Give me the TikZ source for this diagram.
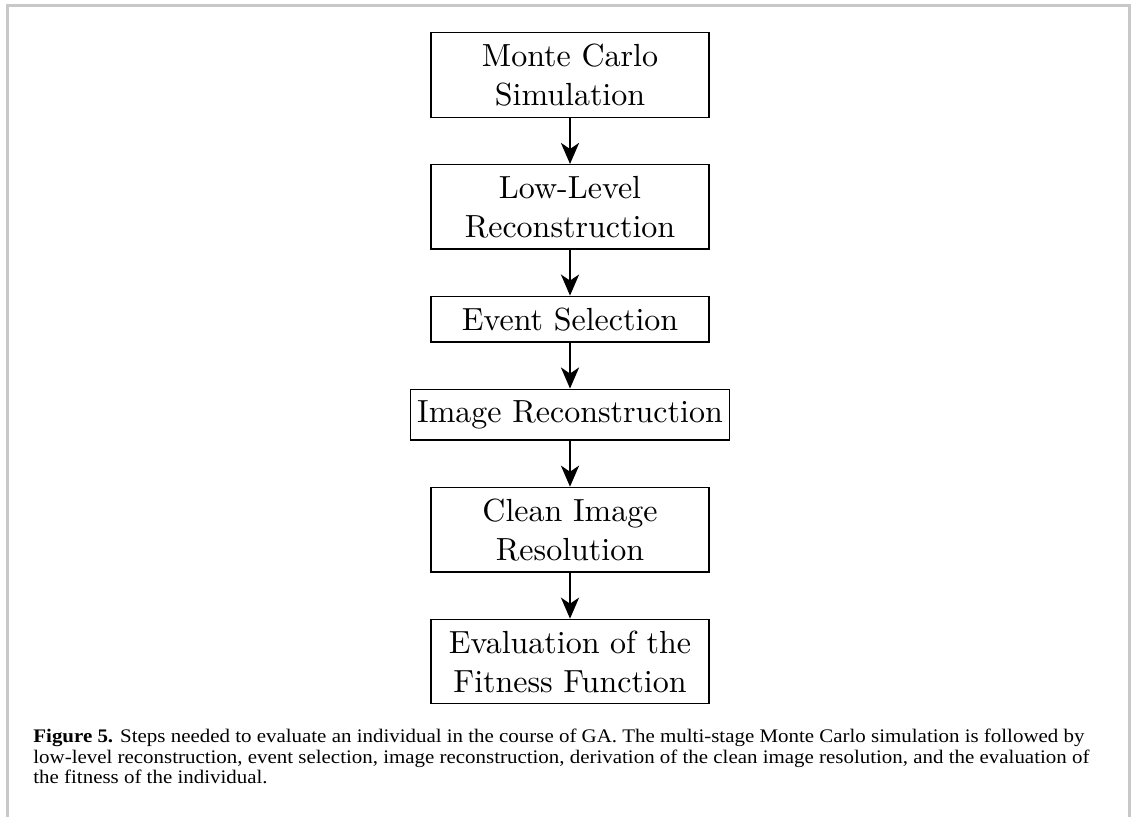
\documentclass[tikz,border=0pt]{standalone}
\usepackage{fontspec}
\setmainfont{Liberation Serif}
\newfontfamily\capfont[FakeStretch=1.09]{Liberation Serif}
\newfontfamily\boxfont[Extension=.otf]{lmroman10-regular}
\usetikzlibrary{positioning,arrows.meta}
\definecolor{framegray}{HTML}{C8C8C8}

\begin{document}
\begin{tikzpicture}[x=1pt,y=1pt,
    stage/.style={draw, line width=0.65pt, align=center,
        font=\boxfont\fontsize{16}{19.5}\selectfont,
        minimum width=139pt, inner xsep=3.25pt, inner ysep=5.6pt},
    flow/.style={-{Stealth[length=10.5pt,width=9pt,inset=3pt]}, line width=1.4pt},
    node distance=23pt]

\useasboundingbox (0,0) rectangle (566.5,-408);

% frame round the figure, open at the bottom
\draw[framegray, line width=1.25pt] (3.75,-410) |- (564.75,-2.75) -- (564.75,-410);

% steps
\node[stage] (mc) at (285,-37.5) {Monte Carlo\\Simulation};
\node[stage, below=of mc] (llr) {Low-Level\\Reconstruction};
\node[stage, below=of llr] (evsel) {Event Selection};
\node[stage, below=of evsel] (imrec) {Image Reconstruction};
\node[stage, below=of imrec] (cires) {Clean Image\\Resolution};
\node[stage, below=of cires] (fitness) {Evaluation of the\\Fitness Function};

% arrows
\draw[flow] (mc) -- (llr);
\draw[flow] (llr) -- (evsel);
\draw[flow] (evsel) -- (imrec);
\draw[flow] (imrec) -- (cires);
\draw[flow] (cires) -- (fitness);

% caption
\node[anchor=north west, align=left, inner sep=0pt,
    font=\capfont\fontsize{9.6}{10.4}\selectfont] (caption) at (16.5,-364.2)
    {\textbf{Figure 5.} Steps needed to evaluate an individual in the course of GA. The multi-stage Monte Carlo simulation is followed by\\
     low-level reconstruction, event selection, image reconstruction, derivation of the clean image resolution, and the evaluation of\\
     the fitness of the individual.};

\end{tikzpicture}
\end{document}
